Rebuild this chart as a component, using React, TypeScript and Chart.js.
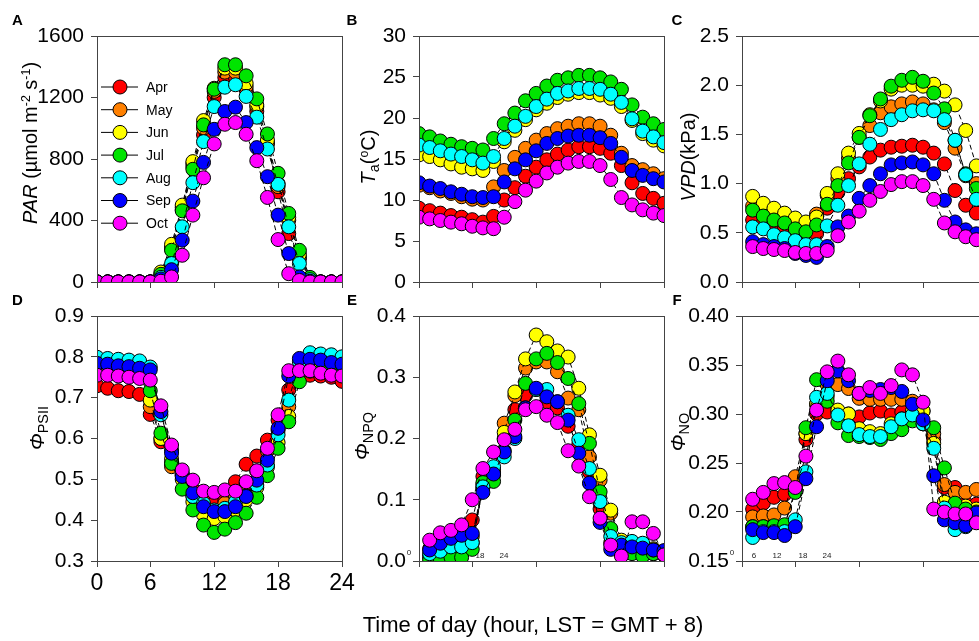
import React, { useEffect, useRef } from "react";
import { Chart, registerables } from "chart.js";

Chart.register(...registerables);

const FONT = "Arial, 'Liberation Sans', Helvetica, sans-serif";
Chart.defaults.font.family = FONT;

// ---------- data ----------
const HOURS = [1, 2, 3, 4, 5, 6, 7, 8, 9, 10, 11, 12, 13, 14, 15, 16, 17, 18, 19, 20, 21, 22, 23, 24];
const X_TICKS = [1, 6, 12, 18, 24];
const X_TICK_LABELS = ["0", "6", "12", "18", "24"];
const MINI_TICK_LABELS = ["0", "6", "12", "18", "24"];
const MONTHS = ["Apr", "May", "Jun", "Jul", "Aug", "Sep", "Oct"];
const COLORS = ["#ff0000", "#ff8000", "#ffff00", "#00e400", "#00ffff", "#0000ff", "#ff00ff"];

// A: PAR
const PAR_APR = [0, 0, 0, 0, 0, 0, 40, 215, 470, 750, 957, 1200, 1330, 1330, 1250, 1110, 900, 587, 315, 150, 15, 0, 0, 0];
const PAR_MAY = [0, 0, 0, 0, 0, 0, 50, 225, 485, 770, 1000, 1240, 1365, 1365, 1272, 1140, 905, 620, 402, 165, 20, 0, 0, 0];
const PAR_JUN = [0, 0, 0, 0, 0, 0, 65, 245, 500, 783, 1050, 1260, 1391, 1391, 1293, 1152, 924, 640, 420, 180, 25, 0, 0, 0];
const PAR_JUL = [0, 0, 0, 0, 0, 0, 50, 206, 463, 733, 1022, 1254, 1413, 1413, 1341, 1191, 963, 707, 446, 206, 30, 0, 0, 0];
const PAR_AUG = [0, 0, 0, 0, 0, 0, 30, 120, 359, 646, 913, 1141, 1267, 1283, 1207, 1072, 865, 635, 359, 120, 15, 0, 0, 0];
const PAR_SEP = [0, 0, 0, 0, 0, 0, 20, 80, 272, 526, 778, 993, 1109, 1137, 1037, 874, 685, 435, 185, 33, 5, 0, 0, 0];
const PAR_OCT = [0, 0, 0, 0, 0, 0, 5, 33, 174, 435, 678, 898, 1026, 1037, 961, 789, 550, 276, 54, 10, 0, 0, 0, 0];
const PAR_TICKS = [0, 400, 800, 1200, 1600];

// B: Ta
const TA_APR = [9.0, 8.7, 8.4, 8.1, 7.9, 7.6, 7.3, 8.0, 10.0, 11.5, 12.9, 14.0, 14.9, 15.6, 16.1, 16.5, 16.5, 16.3, 15.7, 14.2, 12.1, 10.8, 10.2, 9.6];
const TA_MAY = [11.8, 11.5, 11.1, 10.8, 10.4, 10.1, 10.0, 11.6, 13.6, 15.2, 16.3, 17.3, 18.1, 18.7, 19.0, 19.3, 19.3, 19.0, 17.9, 15.7, 14.2, 13.7, 13.2, 12.6];
const TA_JUN = [15.5, 15.3, 14.9, 14.4, 14.0, 13.8, 13.6, 14.7, 17.1, 18.5, 19.8, 21.0, 21.8, 22.5, 22.9, 23.1, 23.1, 22.8, 22.4, 21.4, 19.7, 18.1, 17.3, 16.6];
const TA_JUL = [18.1, 17.7, 17.2, 16.8, 16.5, 16.3, 16.1, 17.5, 19.3, 20.6, 22.1, 23.0, 23.9, 24.6, 24.9, 25.2, 25.2, 24.9, 24.4, 23.5, 21.6, 20.1, 19.3, 18.6];
const TA_AUG = [16.7, 16.4, 16.0, 15.6, 15.3, 14.9, 14.5, 15.3, 17.5, 19.0, 20.2, 21.4, 22.3, 23.0, 23.3, 23.6, 23.6, 23.5, 22.9, 21.9, 19.9, 18.4, 17.7, 17.0];
const TA_SEP = [12.1, 11.7, 11.4, 11.0, 10.7, 10.4, 10.3, 10.4, 12.2, 13.8, 14.9, 16.0, 16.9, 17.5, 17.8, 17.9, 17.9, 17.6, 16.9, 15.2, 13.6, 13.0, 12.6, 12.2];
const TA_OCT = [7.9, 7.7, 7.5, 7.3, 7.1, 6.8, 6.6, 6.5, 7.9, 9.8, 11.2, 12.3, 13.3, 14.0, 14.5, 14.7, 14.7, 14.2, 12.5, 10.3, 9.4, 8.8, 8.4, 8.1];
const TA_TICKS = [0, 5, 10, 15, 20, 25, 30];

// C: VPD
const VPD_APR = [null, 0.63, 0.6, 0.58, 0.55, 0.52, 0.5, 0.49, 0.75, 0.91, 1.05, 1.17, 1.27, 1.34, 1.37, 1.38, 1.39, 1.37, 1.31, 1.2, 0.93, 0.78, 0.7, 0.65];
const VPD_MAY = [null, 0.77, 0.72, 0.67, 0.64, 0.62, 0.6, 0.69, 0.88, 1.05, 1.26, 1.47, 1.59, 1.72, 1.78, 1.81, 1.83, 1.81, 1.75, 1.62, 1.36, 1.08, 1.0, 0.92];
const VPD_JUN = [null, 0.87, 0.8, 0.75, 0.7, 0.65, 0.61, 0.66, 0.9, 1.1, 1.31, 1.51, 1.7, 1.84, 1.96, 2.0, 2.0, 1.99, 2.01, 1.94, 1.8, 1.54, 1.18, 1.05];
const VPD_JUL = [null, 0.73, 0.67, 0.63, 0.6, 0.54, 0.51, 0.58, 0.79, 0.98, 1.21, 1.47, 1.69, 1.86, 1.99, 2.05, 2.08, 2.04, 1.92, 1.76, 1.44, 1.1, 0.95, 0.85];
const VPD_AUG = [null, 0.56, 0.54, 0.48, 0.45, 0.42, 0.38, 0.38, 0.57, 0.78, 0.98, 1.2, 1.4, 1.55, 1.65, 1.7, 1.74, 1.75, 1.74, 1.65, 1.44, 1.09, 0.84, 0.74];
const VPD_SEP = [null, 0.41, 0.38, 0.36, 0.34, 0.29, 0.27, 0.25, 0.36, 0.56, 0.67, 0.85, 0.98, 1.1, 1.19, 1.21, 1.22, 1.19, 1.1, 0.83, 0.61, 0.53, 0.49, 0.47];
const VPD_OCT = [null, 0.36, 0.34, 0.33, 0.32, 0.3, 0.29, 0.29, 0.32, 0.47, 0.61, 0.72, 0.83, 0.92, 0.99, 1.02, 1.02, 0.98, 0.84, 0.6, 0.51, 0.46, 0.43, 0.42];
const VPD_TICKS = [0, 0.5, 1.0, 1.5, 2.0, 2.5];

// D: PhiPSII
const PSII_APR = [0.729, 0.723, 0.717, 0.715, 0.708, 0.659, 0.592, 0.539, 0.511, 0.474, 0.449, 0.441, 0.449, 0.494, 0.537, 0.557, 0.596, 0.645, 0.719, 0.76, 0.755, 0.753, 0.75, 0.74];
const PSII_MAY = [0.78, 0.778, 0.775, 0.772, 0.77, 0.678, 0.6, 0.531, 0.51, 0.46, 0.43, 0.42, 0.441, 0.46, 0.49, 0.52, 0.57, 0.62, 0.678, 0.77, 0.77, 0.77, 0.765, 0.76];
const PSII_JUN = [0.785, 0.783, 0.78, 0.778, 0.775, 0.694, 0.6, 0.55, 0.5, 0.445, 0.413, 0.404, 0.409, 0.425, 0.45, 0.48, 0.53, 0.59, 0.654, 0.77, 0.78, 0.78, 0.775, 0.77];
const PSII_JUL = [0.79, 0.788, 0.785, 0.783, 0.78, 0.717, 0.613, 0.539, 0.476, 0.425, 0.388, 0.37, 0.378, 0.394, 0.417, 0.456, 0.509, 0.576, 0.641, 0.739, 0.765, 0.765, 0.762, 0.76];
const PSII_AUG = [0.799, 0.796, 0.794, 0.792, 0.79, 0.775, 0.658, 0.572, 0.515, 0.458, 0.441, 0.425, 0.429, 0.445, 0.459, 0.486, 0.535, 0.609, 0.694, 0.788, 0.81, 0.807, 0.805, 0.8];
const PSII_SEP = [0.784, 0.782, 0.778, 0.776, 0.772, 0.768, 0.666, 0.564, 0.507, 0.467, 0.433, 0.421, 0.421, 0.433, 0.458, 0.498, 0.547, 0.625, 0.753, 0.796, 0.794, 0.792, 0.786, 0.782];
const PSII_OCT = [0.755, 0.755, 0.753, 0.75, 0.747, 0.743, 0.68, 0.584, 0.523, 0.498, 0.471, 0.468, 0.474, 0.471, 0.494, 0.521, 0.576, 0.658, 0.766, 0.766, 0.766, 0.76, 0.755, 0.753];
const PSII_TICKS = [0.3, 0.4, 0.5, 0.6, 0.7, 0.8, 0.9];

// E: PhiNPQ
const NPQ_APR = [null, 0.02, 0.025, 0.03, 0.035, 0.067, 0.138, 0.15, 0.2, 0.247, 0.27, 0.28, 0.26, 0.25, 0.22, 0.19, 0.145, 0.085, 0.03, 0.015, 0.02, 0.015, 0.012, 0.01];
const NPQ_MAY = [null, 0.01, 0.012, 0.015, 0.02, 0.04, 0.125, 0.145, 0.225, 0.27, 0.315, 0.325, 0.325, 0.309, 0.266, 0.247, 0.17, 0.132, 0.078, 0.03, 0.025, 0.02, 0.015, 0.01];
const NPQ_JUN = [null, 0.005, 0.008, 0.01, 0.012, 0.03, 0.12, 0.14, 0.21, 0.276, 0.33, 0.369, 0.358, 0.343, 0.333, 0.282, 0.206, 0.14, 0.083, 0.034, 0.03, 0.025, 0.02, 0.015];
const NPQ_JUL = [null, 0.002, 0.003, 0.006, 0.006, 0.019, 0.128, 0.13, 0.18, 0.23, 0.29, 0.33, 0.339, 0.324, 0.298, 0.257, 0.192, 0.113, 0.053, 0.023, 0.012, 0.008, 0.012, 0.01];
const NPQ_AUG = [null, 0.012, 0.016, 0.023, 0.023, 0.03, 0.121, 0.154, 0.17, 0.2, 0.25, 0.28, 0.28, 0.26, 0.238, 0.198, 0.151, 0.097, 0.04, 0.03, 0.032, 0.029, 0.018, 0.015];
const NPQ_SEP = [null, 0.018, 0.029, 0.037, 0.042, 0.045, 0.112, 0.142, 0.178, 0.203, 0.25, 0.282, 0.268, 0.26, 0.23, 0.176, 0.127, 0.063, 0.019, 0.026, 0.023, 0.021, 0.018, 0.017];
const NPQ_OCT = [null, 0.034, 0.046, 0.05, 0.059, 0.1, 0.151, 0.178, 0.198, 0.215, 0.247, 0.252, 0.238, 0.226, 0.18, 0.155, 0.105, 0.07, 0.026, 0.008, 0.064, 0.064, 0.045, 0.01];
const NPQ_TICKS = [0, 0.1, 0.2, 0.3, 0.4];

// F: PhiNO
const NO_APR = [null, 0.203, 0.209, 0.215, 0.218, 0.225, 0.274, 0.3, 0.302, 0.302, 0.3, 0.297, 0.301, 0.303, 0.299, 0.302, 0.297, 0.29, 0.274, 0.225, 0.225, 0.209, 0.208, 0.207];
const NO_MAY = [null, 0.195, 0.196, 0.197, 0.204, 0.236, 0.28, 0.31, 0.33, 0.33, 0.326, 0.316, 0.315, 0.315, 0.315, 0.315, 0.313, 0.303, 0.28, 0.228, 0.22, 0.22, 0.223, 0.222];
const NO_JUN = [null, 0.185, 0.185, 0.185, 0.186, 0.223, 0.28, 0.31, 0.318, 0.304, 0.3, 0.285, 0.282, 0.28, 0.29, 0.295, 0.303, 0.303, 0.27, 0.21, 0.2, 0.206, 0.203, 0.202];
const NO_JUL = [null, 0.185, 0.185, 0.186, 0.187, 0.22, 0.286, 0.335, 0.313, 0.291, 0.278, 0.277, 0.276, 0.274, 0.28, 0.284, 0.293, 0.29, 0.286, 0.245, 0.209, 0.203, 0.2, 0.2];
const NO_AUG = [null, 0.174, 0.18, 0.18, 0.18, 0.192, 0.241, 0.317, 0.321, 0.299, 0.288, 0.279, 0.277, 0.277, 0.287, 0.295, 0.299, 0.29, 0.265, 0.204, 0.182, 0.185, 0.19, 0.19];
const NO_SEP = [null, 0.182, 0.179, 0.179, 0.176, 0.185, 0.234, 0.287, 0.334, 0.344, 0.334, 0.321, 0.324, 0.325, 0.327, 0.323, 0.31, 0.294, 0.237, 0.192, 0.189, 0.186, 0.199, 0.195];
const NO_OCT = [null, 0.213, 0.22, 0.229, 0.23, 0.225, 0.257, 0.304, 0.343, 0.354, 0.34, 0.321, 0.327, 0.321, 0.329, 0.345, 0.34, 0.312, 0.203, 0.2, 0.198, 0.198, 0.189, 0.19];
const NO_TICKS = [0.15, 0.2, 0.25, 0.3, 0.35, 0.4];

// ---------- layout ----------
const AXW = 90;
const AXH = 44;
const PADT = 20;
const PADR = 20;

type Panel = {
  key: string;
  L: number; R: number; T: number; B: number;
  series: (number | null)[][];
  yTicks: number[];
  dec: number;
  showX: boolean;
  legend?: boolean;
  mini?: boolean;
};

const PANELS: Panel[] = [
  { key: "A", L: 97, R: 342, T: 36, B: 282, series: [PAR_APR, PAR_MAY, PAR_JUN, PAR_JUL, PAR_AUG, PAR_SEP, PAR_OCT], yTicks: PAR_TICKS, dec: 0, showX: false, legend: true },
  { key: "B", L: 419, R: 664, T: 36, B: 282, series: [TA_APR, TA_MAY, TA_JUN, TA_JUL, TA_AUG, TA_SEP, TA_OCT], yTicks: TA_TICKS, dec: 0, showX: false },
  { key: "C", L: 742, R: 987, T: 36, B: 282, series: [VPD_APR, VPD_MAY, VPD_JUN, VPD_JUL, VPD_AUG, VPD_SEP, VPD_OCT], yTicks: VPD_TICKS, dec: 1, showX: false },
  { key: "D", L: 97, R: 342, T: 316, B: 561, series: [PSII_APR, PSII_MAY, PSII_JUN, PSII_JUL, PSII_AUG, PSII_SEP, PSII_OCT], yTicks: PSII_TICKS, dec: 1, showX: true },
  { key: "E", L: 419, R: 664, T: 316, B: 561, series: [NPQ_APR, NPQ_MAY, NPQ_JUN, NPQ_JUL, NPQ_AUG, NPQ_SEP, NPQ_OCT], yTicks: NPQ_TICKS, dec: 1, showX: false, mini: true },
  { key: "F", L: 742, R: 987, T: 316, B: 561, series: [NO_APR, NO_MAY, NO_JUN, NO_JUL, NO_AUG, NO_SEP, NO_OCT], yTicks: NO_TICKS, dec: 2, showX: false, mini: true },
];

const AXIS_COLOR = "#444";

const framePlugin = {
  id: "frameBox",
  afterDraw(chart: any) {
    const { ctx, chartArea: a } = chart;
    ctx.save();
    ctx.strokeStyle = AXIS_COLOR;
    ctx.lineWidth = 1;
    ctx.strokeRect(a.left + 0.5, a.top + 0.5, a.right - a.left, a.bottom - a.top);
    ctx.restore();
  },
};

const legendPlugin = {
  id: "monthLegend",
  afterDraw(chart: any) {
    const { ctx, chartArea: a } = chart;
    ctx.save();
    MONTHS.forEach((m, i) => {
      const y = a.top + 51 + i * 22.7;
      ctx.strokeStyle = "#000";
      ctx.lineWidth = 1;
      ctx.setLineDash([]);
      ctx.beginPath();
      ctx.moveTo(a.left + 4, y);
      ctx.lineTo(a.left + 41, y);
      ctx.stroke();
      ctx.beginPath();
      ctx.arc(a.left + 23, y, 7, 0, Math.PI * 2);
      ctx.fillStyle = COLORS[i];
      ctx.fill();
      ctx.stroke();
      ctx.fillStyle = "#000";
      ctx.font = `14px ${FONT}`;
      ctx.textAlign = "left";
      ctx.textBaseline = "middle";
      ctx.fillText(m, a.left + 49, y + 1);
    });
    ctx.restore();
  },
};

const miniAxisPlugin = {
  id: "miniAxis",
  beforeDatasetsDraw(chart: any) {
    const { ctx, chartArea: a } = chart;
    const offs = [-10, 12, 35, 61, 85];
    ctx.save();
    ctx.font = `8px ${FONT}`;
    ctx.fillStyle = "#222";
    ctx.textAlign = "center";
    ctx.textBaseline = "middle";
    MINI_TICK_LABELS.forEach((t, i) => {
      ctx.fillText(t, a.left + offs[i], a.bottom - (i === 0 ? 8 : 5));
    });
    ctx.restore();
  },
};

function buildConfig(p: Panel): any {
  const plugins: any[] = [framePlugin];
  if (p.legend) plugins.push(legendPlugin);
  if (p.mini) plugins.push(miniAxisPlugin);
  return {
    type: "line",
    data: {
      datasets: MONTHS.map((m, i) => ({
        label: m,
        data: HOURS.map((h, j) => ({ x: h, y: p.series[i][j] })),
        borderColor: "#000",
        borderWidth: 1,
        borderDash: [5, 3],
        pointRadius: 7,
        pointHoverRadius: 7,
        pointBackgroundColor: COLORS[i],
        pointBorderColor: "#000",
        pointBorderWidth: 1,
        fill: false,
        tension: 0,
        spanGaps: false,
        clip: 0,
        order: MONTHS.length - 1 - i,
      })),
    },
    options: {
      animation: false,
      responsive: false,
      devicePixelRatio: 1,
      events: [],
      layout: { padding: { left: 0, right: PADR, top: PADT, bottom: 0 } },
      plugins: { legend: { display: false }, tooltip: { enabled: false } },
      scales: {
        x: {
          type: "linear",
          min: 1,
          max: 24,
          afterBuildTicks: (ax: any) => {
            ax.ticks = X_TICKS.map((v) => ({ value: v }));
          },
          afterFit: (ax: any) => {
            ax.height = AXH;
          },
          ticks: {
            display: p.showX,
            autoSkip: false,
            maxRotation: 0,
            padding: 3,
            color: "#000",
            font: { family: FONT, size: 23 },
            callback: (_v: any, idx: number) => X_TICK_LABELS[idx],
          },
          grid: { drawOnChartArea: false, drawTicks: true, tickLength: 6, color: AXIS_COLOR, lineWidth: 1 },
          border: { display: true, color: AXIS_COLOR, width: 1 },
        },
        y: {
          type: "linear",
          min: p.yTicks[0],
          max: p.yTicks[p.yTicks.length - 1],
          afterBuildTicks: (ax: any) => {
            ax.ticks = p.yTicks.map((v) => ({ value: v }));
          },
          afterFit: (ax: any) => {
            ax.width = AXW;
          },
          ticks: {
            padding: 7,
            color: "#000",
            font: { family: FONT, size: 21 },
            callback: (v: any) => Number(v).toFixed(p.dec),
          },
          grid: { drawOnChartArea: false, drawTicks: true, tickLength: 6, color: AXIS_COLOR, lineWidth: 1 },
          border: { display: true, color: AXIS_COLOR, width: 1 },
        },
      },
    },
    plugins,
  };
}

function PanelChart({ p }: { p: Panel }) {
  const ref = useRef<HTMLCanvasElement | null>(null);
  const w = p.R - p.L + AXW + PADR;
  const h = p.B - p.T + PADT + AXH;
  useEffect(() => {
    const canvas = ref.current;
    if (!canvas) return;
    const chart = new Chart(canvas, buildConfig(p));
    return () => chart.destroy();
  }, [p]);
  return (
    <canvas
      ref={ref}
      width={w}
      height={h}
      style={{ position: "absolute", left: p.L - AXW, top: p.T - PADT, width: w, height: h }}
    />
  );
}

const letterStyle = (x: number, y: number): React.CSSProperties => ({
  position: "absolute",
  left: x,
  top: y,
  transform: "translate(-50%, -50%)",
  fontWeight: "bold",
  fontSize: 15,
  lineHeight: 1,
});

const yTitleStyle = (x: number, y: number): React.CSSProperties => ({
  position: "absolute",
  left: x,
  top: y,
  transform: "translate(-50%, -50%) rotate(-90deg)",
  fontSize: 20,
  lineHeight: 1,
  whiteSpace: "nowrap",
});

const supStyle: React.CSSProperties = { fontSize: "0.62em", verticalAlign: "0.55em", lineHeight: 0 };
const subStyle: React.CSSProperties = { fontSize: "0.72em", verticalAlign: "-0.3em", lineHeight: 0 };

export default function App() {
  return (
    <div
      style={{
        position: "absolute",
        left: 0,
        top: 0,
        width: 979,
        height: 641,
        overflow: "hidden",
        background: "#fff",
        fontFamily: FONT,
        color: "#000",
      }}
    >
      {PANELS.map((p) => (
        <PanelChart key={p.key} p={p} />
      ))}

      <div style={letterStyle(17.5, 18.5)}>A</div>
      <div style={letterStyle(352, 18.5)}>B</div>
      <div style={letterStyle(677, 18.5)}>C</div>
      <div style={letterStyle(17.5, 298.5)}>D</div>
      <div style={letterStyle(352, 298.5)}>E</div>
      <div style={letterStyle(677, 298.5)}>F</div>

      <div style={yTitleStyle(30, 143)}>
        <i>PAR</i> (µmol m<span style={supStyle}>-2</span> s<span style={supStyle}>-1</span>)
      </div>
      <div style={yTitleStyle(368, 157)}>
        <i>T</i><span style={subStyle}>a</span>(<span style={supStyle}>o</span>C)
      </div>
      <div style={yTitleStyle(688, 157)}>
        <i>VPD</i>(kPa)
      </div>
      <div style={yTitleStyle(37, 428)}>
        <i>Φ</i><span style={subStyle}>PSII</span>
      </div>
      <div style={yTitleStyle(362, 436)}>
        <i>Φ</i><span style={subStyle}>NPQ</span>
      </div>
      <div style={yTitleStyle(678, 432)}>
        <i>Φ</i><span style={subStyle}>NO</span>
      </div>

      <div
        style={{
          position: "absolute",
          left: 533,
          top: 625,
          transform: "translate(-50%, -50%)",
          fontSize: 22,
          lineHeight: 1,
          whiteSpace: "nowrap",
        }}
      >
        Time of day (hour, LST = GMT + 8)
      </div>
    </div>
  );
}
